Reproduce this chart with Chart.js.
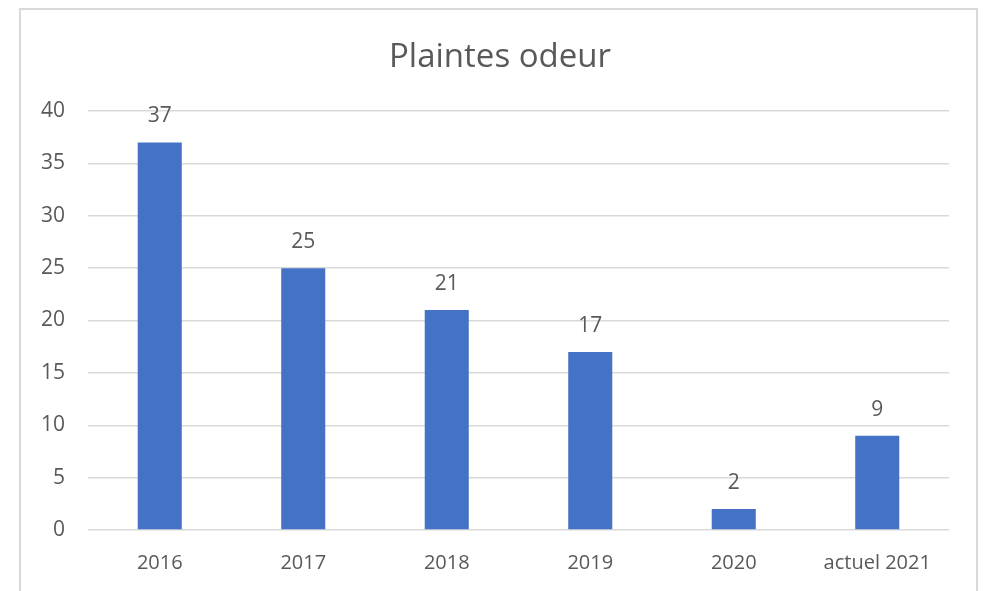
<!DOCTYPE html>
<html>
<head>
<meta charset="utf-8">
<script src="https://cdn.jsdelivr.net/npm/chart.js@4/dist/chart.umd.min.js"></script>
<style>
  html, body { margin:0; padding:0; background:#fff; width:986px; height:591px; overflow:hidden; }
  #frame { position:absolute; left:19px; top:8px; width:959px; height:600px; box-sizing:border-box; border:2px solid #d9d9d9; }
  #wrap { position:absolute; left:0; top:0; width:986px; height:591px; }
</style>
</head>
<body>
<div id="frame"></div>
<div id="wrap"><canvas id="c" width="986" height="591"></canvas></div>
<script>
const categories = ["2016", "2017", "2018", "2019", "2020", "actuel 2021"];
const values = [37, 25, 21, 17, 2, 9];
const yTicks = [0, 5, 10, 15, 20, 25, 30, 35, 40];
const chartTitle = "Plaintes odeur";

const FONT = "'Open Sans', 'Liberation Sans', sans-serif";
const TEXT = "#595959";

const dataLabels = {
  id: 'dataLabels',
  afterDatasetsDraw(chart) {
    const ctx = chart.ctx;
    const meta = chart.getDatasetMeta(0);
    ctx.save();
    ctx.font = "21px " + FONT;
    ctx.fillStyle = TEXT;
    ctx.textAlign = 'center';
    ctx.textBaseline = 'middle';
    meta.data.forEach((bar, i) => {
      ctx.fillText(String(values[i]), bar.x, bar.y - 26);
    });
    ctx.restore();
  }
};

const titleDraw = {
  id: 'titleDraw',
  afterDraw(chart) {
    const ctx = chart.ctx;
    ctx.save();
    ctx.font = "33px " + FONT;
    ctx.fillStyle = TEXT;
    ctx.textAlign = 'center';
    ctx.textBaseline = 'alphabetic';
    ctx.fillText(chartTitle, 500, 67);
    ctx.restore();
  }
};

new Chart(document.getElementById('c'), {
  type: 'bar',
  data: {
    labels: categories,
    datasets: [{
      data: values,
      backgroundColor: '#4472C4',
      borderWidth: 0,
      barPercentage: 0.307,
      categoryPercentage: 1.0
    }]
  },
  options: {
    responsive: false,
    animation: false,
    devicePixelRatio: 1,
    layout: { padding: { left: 0, right: 37, top: 111, bottom: 0 } },
    plugins: {
      legend: { display: false },
      tooltip: { enabled: false },
      title: { display: false }
    },
    scales: {
      x: {
        grid: { display: false, drawTicks: false },
        border: { display: false },
        ticks: { color: TEXT, font: { family: FONT, size: 20 }, padding: 21, maxRotation: 0, autoSkip: false },
        afterFit(scale) { scale.height = 61; }
      },
      y: {
        min: 0,
        max: 40,
        afterBuildTicks(scale) { scale.ticks = yTicks.map(v => ({ value: v })); },
        grid: { color: '#d9d9d9', lineWidth: 1.5, drawTicks: false },
        border: { display: false },
        ticks: { color: TEXT, font: { family: FONT, size: 21 }, padding: 23 },
        afterFit(scale) { scale.width = 88; }
      }
    }
  },
  plugins: [dataLabels, titleDraw]
});
</script>
</body>
</html>
